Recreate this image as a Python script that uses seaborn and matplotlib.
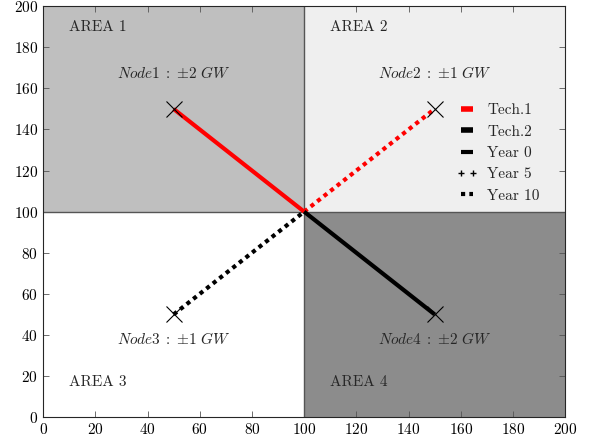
import matplotlib
matplotlib.use('Agg')
import matplotlib.pyplot as plt
import seaborn as sns
import pandas as pd
from matplotlib.lines import Line2D

sns.set_style('ticks')
plt.rcParams['font.family'] = ['cmr10', 'DejaVu Serif']
plt.rcParams['mathtext.fontset'] = 'cm'
plt.rcParams['axes.formatter.use_mathtext'] = True

# data
hub = (100, 100)
node_names = ['Node1', 'Node2', 'Node3', 'Node4']
node_x = [50, 150, 50, 150]
node_y = [150, 150, 50, 50]
node_cap = ['2', '1', '1', '2']
node_tech = ['Tech.1', 'Tech.1', 'Tech.2', 'Tech.2']
node_year = ['Year 0', 'Year 10', 'Year 10', 'Year 0']
label_y = [167.5, 167.5, 38, 38]

areas = ['AREA 1', 'AREA 2', 'AREA 3', 'AREA 4']
area_x0 = [0, 100, 0, 100]
area_y0 = [100, 100, 0, 0]
area_colors = ['#bfbfbf', '#efefef', '#ffffff', '#8c8c8c']
area_label_y = [190, 190, 17, 17]

tech_colors = {'Tech.1': 'red', 'Tech.2': 'black'}
year_styles = {'Year 0': '-', 'Year 10': (0, (1, 1))}

fig = plt.figure(figsize=(5.9, 4.41), dpi=100)
ax = fig.add_axes([0.073, 0.054, 0.885, 0.932])

for name, x0, y0, c, ly in zip(areas, area_x0, area_y0, area_colors, area_label_y):
    ax.fill_between([x0, x0 + 100], y0, y0 + 100, color=c, zorder=0, linewidth=0)
    ax.text(x0 + 10, ly, name, fontsize=11, va='center', ha='left')

ax.axhline(100, color='#555555', lw=1, zorder=1)
ax.axvline(100, color='#555555', lw=1, zorder=1)

for n, x, y, cap, t, yr, ly in zip(node_names, node_x, node_y, node_cap, node_tech, node_year, label_y):
    seg = pd.DataFrame({'x': [x, hub[0]], 'y': [y, hub[1]]})
    sns.lineplot(data=seg, x='x', y='y', ax=ax, color=tech_colors[t],
                 linestyle=year_styles[yr], lw=3, zorder=3,
                 solid_capstyle='butt', dash_capstyle='butt')
    ax.plot(x, y, marker='x', color='black', ms=12, mew=0.8, zorder=4)
    ax.text(x, ly, r'$%s\;:\;{\pm}%s\ GW$' % (n, cap), fontsize=11, ha='center', va='center')

handles = [
    Line2D([], [], color='red', lw=4, solid_capstyle='butt'),
    Line2D([], [], color='black', lw=4, solid_capstyle='butt'),
    Line2D([], [], color='black', lw=3, solid_capstyle='butt'),
    Line2D([], [], color='black', marker='+', ls='none', ms=5, mew=1),
    Line2D([], [], color='black', lw=3, ls=(0, (1, 1)), dash_capstyle='butt'),
]
labels = ['Tech.1', 'Tech.2', 'Year 0', 'Year 5', 'Year 10']
ax.legend(handles, labels, loc='upper left', bbox_to_anchor=(0.791, 0.763), frameon=False,
          fontsize=11, numpoints=2, handlelength=1.4, labelspacing=0.5, handletextpad=0.65,
          borderpad=0, borderaxespad=0)

ax.set_xlim(0, 200)
ax.set_ylim(0, 200)
ax.set_xticks(range(0, 201, 20))
ax.set_yticks(range(0, 201, 20))
ax.tick_params(direction='in', length=4, width=0.6, color='#555555', labelsize=11,
               top=True, right=True, labelcolor='black')
ax.set_xlabel('')
ax.set_ylabel('')
for s in ax.spines.values():
    s.set_linewidth(0.8)
    s.set_zorder(5)

fig.savefig('out.png', dpi=100)
